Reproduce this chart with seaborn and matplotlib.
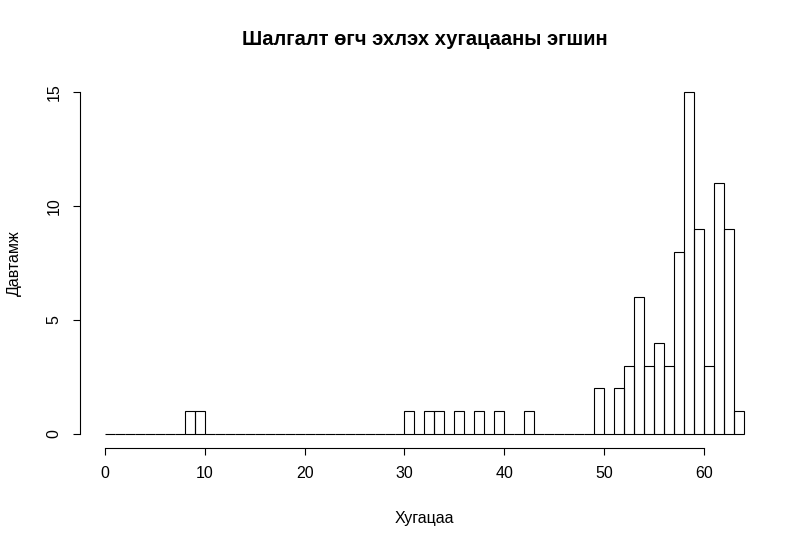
import numpy as np
import pandas as pd
import matplotlib
matplotlib.use("Agg")
import matplotlib.pyplot as plt
import seaborn as sns

# Хугацаа (бинийн дунд цэг) ба давтамж
hugatsaa = [8.5, 9.5, 30.5, 32.5, 33.5, 35.5, 37.5, 39.5, 42.5,
            49.5, 51.5, 52.5, 53.5, 54.5, 55.5, 56.5, 57.5, 58.5,
            59.5, 60.5, 61.5, 62.5, 63.5]
davtamj = [1, 1, 1, 1, 1, 1, 1, 1, 1,
           2, 2, 3, 6, 3, 4, 3, 8, 15,
           9, 3, 11, 9, 1]
bin_edges = list(range(0, 65))
x_ticks = [0, 10, 20, 30, 40, 50, 60]
y_ticks = [0, 5, 10, 15]

df = pd.DataFrame({"Хугацаа": hugatsaa, "n": davtamj})

sns.set_style("ticks")
plt.rcParams["font.family"] = ["Liberation Sans", "DejaVu Sans"]
plt.rcParams["text.color"] = "black"
plt.rcParams["axes.labelcolor"] = "black"

fig = plt.figure(figsize=(8.09, 5.45), dpi=100)
ax = fig.add_axes([0.0983, 0.1785, 0.8527, 0.6778])

sns.histplot(data=df, x="Хугацаа", weights="n", bins=bin_edges,
             fill=False, color="black", linewidth=0.8, ax=ax)

ax.set_xlim(-2.56, 66.56)
ax.set_ylim(-0.6, 15.6)
ax.set_xticks(x_ticks)
ax.set_yticks(y_ticks)
ax.tick_params(labelsize=11.5, length=5, width=0.8, colors="black", pad=8)
for lab in ax.get_yticklabels():
    lab.set_rotation(90)
    lab.set_va("center")

sns.despine(ax=ax)
ax.spines["bottom"].set_bounds(0, 60)
ax.spines["left"].set_bounds(0, 15)
for s in ["bottom", "left"]:
    ax.spines[s].set_linewidth(0.8)
    ax.spines[s].set_color("black")

ax.set_xlabel("Хугацаа", fontsize=11.5, labelpad=22)
ax.set_ylabel("Давтамж", fontsize=11.5, labelpad=18)
ax.set_title("Шалгалт өгч эхлэх хугацааны эгшин", fontsize=14.5,
             fontweight="bold", pad=24)

fig.savefig("out.png", dpi=100)
